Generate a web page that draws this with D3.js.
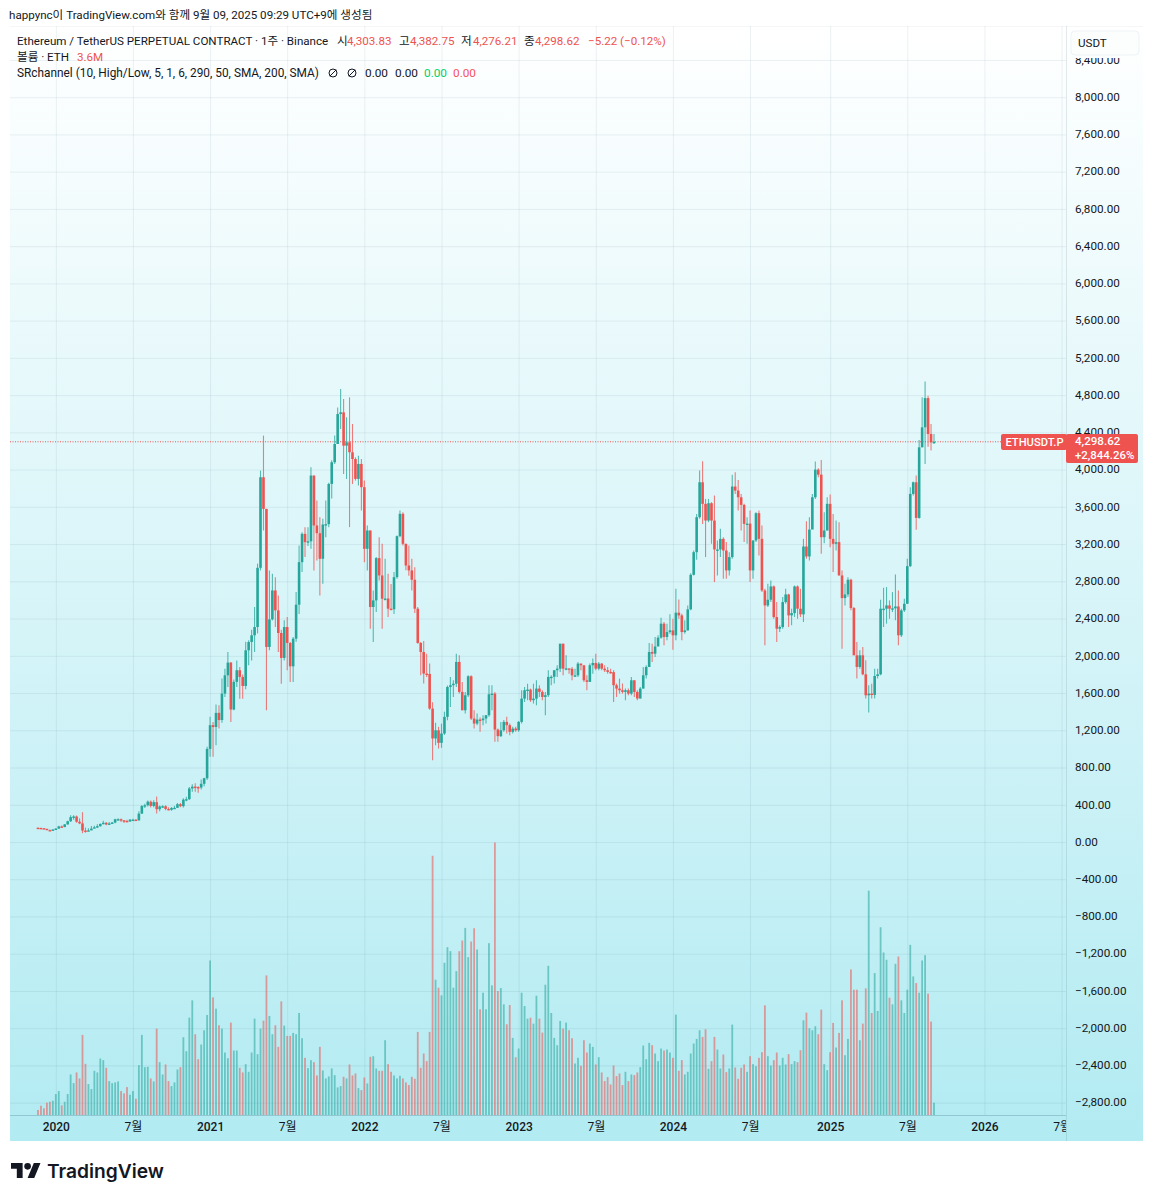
<!DOCTYPE html>
<html lang="ko"><head><meta charset="utf-8">
<script src="https://cdn.jsdelivr.net/npm/d3@7/dist/d3.min.js"></script>
<style>
html,body{margin:0;padding:0;background:#fff}
svg{display:block}
text{font-family:Roboto,"Noto Sans CJK KR",sans-serif;fill:#131722}
</style></head><body><div id="chart"></div>
<script>
// Weekly candles beginning Monday 2019-11-25 (one entry per week), USDT
const closes = [
151,148,142,128,127,134,144,167,161,189,
223,267,274,218,200,123,122,125,144,158,
170,194,206,188,199,209,244,245,233,226,
220,240,240,232,305,386,395,433,387,428,
352,382,384,355,346,366,367,406,385,455,
460,575,595,590,585,625,685,1000,1255,1235,
1387,1310,1594,1790,1927,1423,1720,1845,1773,1676,
2059,2148,2220,2309,2945,3918,3578,2095,2391,2702,
2488,2245,1977,2309,2138,1887,2184,2549,3006,3310,
3221,3230,3936,3400,3317,3042,3410,3414,3846,4079,
4275,4597,4615,4257,4293,4186,4114,3900,4061,3811,
3149,3346,2524,2595,3049,2863,2613,2615,2506,2500,
2845,3285,3525,3203,2970,2917,2817,2506,2138,2041,
1809,1805,1433,1112,1200,1065,1165,1344,1665,1684,
1700,1934,1612,1415,1576,1780,1326,1272,1315,1308,
1326,1362,1587,1594,1208,1137,1200,1290,1255,1183,
1218,1200,1290,1540,1630,1637,1523,1540,1648,1612,
1558,1577,1773,1775,1845,1862,2130,1862,1865,1860,
1790,1790,1916,1898,1737,1720,1898,1923,1862,1916,
1862,1845,1827,1825,1684,1648,1630,1612,1630,1594,
1737,1612,1541,1648,1791,1880,2041,2023,2100,2195,
2345,2202,2255,2273,2220,2463,2434,2255,2273,2499,
2870,3113,3489,3864,3632,3453,3639,3453,3142,3142,
3256,3131,2917,3060,3818,3775,3703,3621,3417,3420,
2917,3239,3532,3256,2702,2541,2602,2745,2416,2291,
2309,2577,2659,2434,2459,2745,2506,2445,3174,3067,
3356,3703,4000,3946,3274,3346,3632,3256,3203,3221,
2863,2620,2659,2817,2513,2005,1880,2005,1801,1576,
1594,1580,1783,1801,2506,2506,2541,2506,2510,2530,
2220,2488,2559,2963,3739,3864,3481,4239,4454,4768,
4382,4293,4298.62];
const highs = [
156,153,149,135,134,138,149,175,176,192,
227,288,287,285,254,320,155,148,172,175,
190,200,228,215,215,216,250,255,252,235,
238,246,250,245,330,398,410,445,445,448,
490,392,394,395,373,375,388,420,418,470,
486,590,620,632,600,670,690,1022,1344,1290,
1477,1469,1755,1862,2041,1934,1745,1950,1880,1800,
2150,2166,2280,2524,2990,3989,4365,3578,2917,2881,
2845,2649,2280,2381,2416,2148,2202,2684,3185,3328,
3380,3382,4025,3936,3668,3489,3471,3668,3860,4100,
4365,4668,4865,4758,4561,4776,4490,4132,4150,4114,
3882,3399,3346,2702,3060,3274,3203,3042,2881,2772,
2900,3292,3560,3543,3203,3185,3042,2952,2524,2148,
2160,2023,1916,1500,1280,1237,1272,1400,1680,1773,
1737,2023,2005,1719,1610,1791,1791,1415,1380,1337,
1362,1362,1683,1683,1612,1218,1290,1310,1344,1272,
1237,1237,1300,1630,1666,1700,1648,1700,1737,1683,
1630,1612,1845,1791,1845,1898,2130,2130,2005,1862,
1880,1862,1934,1916,1898,1791,1916,1970,2023,1934,
1923,1898,1880,1862,1845,1702,1755,1702,1648,1648,
1773,1737,1630,1666,1880,1898,2138,2130,2202,2220,
2409,2363,2345,2445,2398,2720,2606,2452,2381,2541,
2888,3131,3524,3989,4089,3685,3685,3650,3721,3239,
3364,3274,3221,3113,3946,3971,3889,3739,3632,3489,
3560,3239,3542,3560,3399,2720,2774,2810,2756,2577,
2327,2631,2720,2667,2506,2756,2756,2720,3256,3446,
3489,3739,4086,4014,4104,3542,3703,3732,3524,3453,
3435,2917,2774,2845,2827,2524,2148,2059,2095,1952,
1684,1701,1862,1862,2602,2731,2738,2595,2684,2874,
2702,2506,2613,3042,3810,3871,3936,4318,4776,4947,
4793,4490,4382.75];
const lows = [
146,144,140,125,122,126,133,142,155,158,
186,215,240,208,192,95,100,118,125,150,
150,165,190,180,185,195,201,230,215,205,
215,218,230,225,232,300,365,380,370,372,
307,330,365,340,340,335,360,367,372,370,
437,450,540,540,530,565,600,665,915,915,
1040,1219,1280,1558,1666,1290,1415,1666,1540,1540,
1640,1898,1950,2041,2240,2917,3346,1415,2059,2380,
2310,2041,1701,1950,1845,1719,1719,2150,2450,2899,
3060,3180,3150,2917,3024,2649,2774,3274,3380,3690,
4061,4436,4436,3954,3900,3382,3846,3882,3828,3560,
3006,2917,2291,2148,2470,2810,2291,2595,2416,2488,
2450,2827,3274,3185,2920,2860,2702,2460,2130,1791,
1702,1773,1420,879,1040,1004,1012,1150,1308,1451,
1558,1665,1594,1415,1380,1558,1310,1219,1255,1183,
1255,1272,1344,1415,1076,1076,1129,1184,1165,1147,
1165,1183,1183,1272,1505,1523,1505,1487,1469,1558,
1523,1362,1558,1684,1702,1773,1827,1791,1844,1808,
1737,1773,1773,1844,1719,1630,1719,1808,1844,1844,
1844,1827,1808,1808,1505,1558,1594,1594,1523,1576,
1576,1558,1523,1541,1648,1755,1880,1934,1987,2113,
2184,2113,2166,2238,2066,2166,2398,2166,2238,2273,
2488,2863,3031,3471,3417,3060,3435,3203,2792,2863,
3060,2827,2827,2863,3042,3739,3560,3346,3221,3203,
2792,2827,3221,3078,2684,2113,2524,2577,2398,2148,
2255,2291,2559,2309,2327,2416,2398,2416,2363,3042,
3024,3364,3685,3918,3096,3210,3346,3167,2899,3131,
2863,2077,2541,2631,2488,2059,1755,1862,1791,1541,
1390,1541,1541,1755,1791,2309,2345,2398,2470,2381,
2113,2202,2470,2559,2953,3721,3353,3471,4239,4061,
4246,4204,4276.21];
// Volume, in units of 100k ETH
const volumes = [
15,28,20,37,40,43,63,72,29,40,
63,122,96,128,110,241,154,93,78,133,
128,170,165,142,102,96,98,101,72,65,
84,61,72,49,150,241,144,145,110,101,
260,159,122,152,102,87,98,137,144,234,
192,293,345,243,168,212,255,301,465,354,
320,270,260,188,171,278,194,194,142,128,
153,130,188,290,183,260,284,420,298,243,
270,205,342,269,238,238,247,243,307,231,
172,141,165,159,119,205,134,110,116,140,
120,83,87,115,110,152,119,125,81,75,
113,95,175,177,140,133,133,225,153,130,
119,110,118,110,98,90,115,109,250,142,
185,162,250,780,407,383,360,458,505,493,
383,433,493,525,563,475,522,562,498,318,
368,318,517,390,820,373,382,333,273,331,
232,174,200,368,328,290,293,275,359,290,
248,392,449,307,232,210,283,260,278,255,
231,155,172,148,225,188,215,205,152,174,
128,102,114,92,149,117,125,90,130,102,
122,120,128,144,209,168,217,210,185,162,
200,194,197,188,172,302,133,165,122,130,
185,215,229,255,235,258,139,162,235,197,
140,182,129,140,272,143,109,142,152,130,
177,153,147,172,189,330,177,149,165,188,
149,172,152,183,153,162,159,195,285,308,
261,255,267,243,317,153,135,189,277,203,
247,345,180,229,438,377,377,225,275,381,
675,307,427,313,565,489,467,353,333,455,
477,345,307,377,512,417,397,368,465,481,
365,281,37];
const firstOpen = 153;
const priceTicks = d3.range(-2800, 8401, 400);
const timeTickWeeks = ["2020-01-06","2020-07-06","2021-01-04","2021-07-05","2022-01-03","2022-07-04","2023-01-02","2023-07-03","2024-01-01","2024-07-01","2025-01-06","2025-07-07","2026-01-05","2026-07-06"];
const timeTickLabels = ["2020","7월","2021","7월","2022","7월","2023","7월","2024","7월","2025","7월","2026","7월"];
const lastClose = 4298.62;
const legendRow1 = [
 ["Ethereum / TetherUS PERPETUAL CONTRACT · 1주 · Binance",17,"#131722",11.6],
 ["시",337,"#131722",11.6],["4,303.83",347,"#ef5350",11.6],
 ["고",399,"#131722",11.6],["4,382.75",410,"#ef5350",11.6],
 ["저",461,"#131722",11.6],["4,276.21",473,"#ef5350",11.6],
 ["종",524,"#131722",11.6],["4,298.62",535,"#ef5350",11.6],
 ["−5.22 (−0.12%)",588,"#ef5350",11.6]];
const legendRow2 = [["볼륨 · ETH",17,"#131722",11.6],["3.6M",77,"#ef5350",11.6]];
const legendRow3 = [
 ["SRchannel (10, High/Low, 5, 1, 6, 290, 50, SMA, 200, SMA)",17,"#131722",11.85],
 ["0.00",365,"#131722",11.8],["0.00",395,"#131722",11.8],["0.00",424,"#00d26a",11.8],["0.00",453,"#f7525f",11.8]];

const W=1153,H=1200;
const panel={l:10,r:1143,t:26,b:1141}, plotR=1066, timeY=1115;
const UP="#26a69a",DOWN="#ef5350";
const svg=d3.select("#chart").append("svg").attr("width",W).attr("height",H).attr("viewBox",[0,0,W,H]);
const defs=svg.append("defs");
const g=defs.append("linearGradient").attr("id","bg").attr("gradientUnits","userSpaceOnUse").attr("x1",0).attr("x2",0).attr("y1",panel.t).attr("y2",panel.b);
g.append("stop").attr("offset",0).attr("stop-color","#ffffff");
g.append("stop").attr("offset",1).attr("stop-color","#b2ebf2");

const start=new Date(Date.UTC(2019,10,25));
const dateOf=i=>d3.utcMonday.offset(start,i);
const x=d3.scaleUtc().domain([start,dateOf(closes.length-1)]).range([38,934]);
const y=d3.scaleLinear().domain([0,8000]).range([842,97.2]);
const v=d3.scaleLinear().domain([0,820]).range([timeY,842.5]);
const candles=closes.map((c,i)=>({date:dateOf(i),c,o:i?closes[i-1]:firstOpen,h:highs[i],l:lows[i],vol:volumes[i]}));
const col=d=>d.c>=d.o?UP:DOWN;
const tickDates=timeTickWeeks.map(s=>new Date(s+"T00:00:00Z"));

svg.append("rect").attr("x",panel.l).attr("y",panel.t).attr("width",panel.r-panel.l).attr("height",panel.b-panel.t).attr("fill","url(#bg)");
const GRID="rgba(30,70,90,0.075)";
// grid
const gridY=svg.append("g").attr("transform",`translate(${plotR},0)`)
 .call(d3.axisLeft(y).tickValues(priceTicks).tickSize(plotR-panel.l).tickFormat(""));
gridY.selectAll("line").attr("stroke",GRID);gridY.select(".domain").remove();
const gridX=svg.append("g").attr("transform",`translate(0,${timeY})`)
 .call(d3.axisTop(x).tickValues(tickDates).tickSize(timeY-panel.t).tickFormat(""));
gridX.selectAll("line").attr("stroke",GRID);gridX.select(".domain").remove();
// separators
svg.append("line").attr("x1",panel.l).attr("x2",panel.r).attr("y1",panel.t+.5).attr("y2",panel.t+.5).attr("stroke","rgba(30,70,90,0.05)");
svg.append("line").attr("x1",panel.l).attr("x2",plotR).attr("y1",timeY+.5).attr("y2",timeY+.5).attr("stroke","rgba(30,70,90,0.22)");
svg.append("line").attr("x1",plotR+.5).attr("x2",plotR+.5).attr("y1",panel.t).attr("y2",panel.b).attr("stroke","rgba(30,70,90,0.12)");

// volume
svg.append("g").selectAll("rect").data(candles).join("rect")
 .attr("x",d=>x(d.date)-.9).attr("width",1.8).attr("y",d=>v(d.vol)).attr("height",d=>timeY-v(d.vol))
 .attr("fill",col).attr("fill-opacity",.55);
// price line
svg.append("line").attr("x1",panel.l).attr("x2",plotR).attr("y1",y(lastClose)).attr("y2",y(lastClose))
 .attr("stroke",DOWN).attr("stroke-dasharray","1 1.5").attr("stroke-width",1);
// candles
const cg=svg.append("g");
cg.selectAll("line").data(candles).join("line")
 .attr("x1",d=>x(d.date)).attr("x2",d=>x(d.date)).attr("y1",d=>y(d.h)).attr("y2",d=>y(d.l))
 .attr("stroke",col).attr("stroke-width",1.1).attr("stroke-opacity",.75);
cg.selectAll("rect").data(candles).join("rect")
 .attr("x",d=>x(d.date)-1.3).attr("width",2.6)
 .attr("y",d=>y(Math.max(d.o,d.c))).attr("height",d=>Math.max(1.4,Math.abs(y(d.o)-y(d.c))))
 .attr("fill",col);

// price axis
const ay=svg.append("g").attr("transform",`translate(${plotR+9},-0.5)`)
 .call(d3.axisRight(y).tickValues(priceTicks).tickSize(0).tickPadding(0).tickFormat(d3.format(",.2f")));
ay.select(".domain").remove();
ay.selectAll("text").attr("font-size",11.7).style("font-family",'Roboto,"Noto Sans CJK KR",sans-serif').attr("fill","#131722");
// time axis
svg.append("clipPath").attr("id","tclip").append("rect").attr("x",panel.l).attr("y",timeY).attr("width",plotR-panel.l).attr("height",panel.b-timeY);
const ax=svg.append("g").attr("clip-path","url(#tclip)");
const axInner=ax.append("g").attr("transform",`translate(0,${timeY})`)
 .call(d3.axisBottom(x).tickValues(tickDates).tickSize(0).tickPadding(7.5).tickFormat((d,i)=>timeTickLabels[i]));
axInner.select(".domain").remove();
axInner.selectAll("text").attr("font-size",12).style("font-family",'Roboto,"Noto Sans CJK KR",sans-serif')
 .attr("fill","#131722").attr("font-weight",(d,i)=>i%2===0?500:400);

// USDT unit box (the top price label passes beneath the header of the price scale)
svg.append("rect").attr("x",plotR+1).attr("y",panel.t+1).attr("width",panel.r-plotR-1).attr("height",31).attr("fill","url(#bg)");
svg.append("rect").attr("x",1071).attr("y",31).attr("width",68).attr("height",24).attr("rx",4)
 .attr("fill","#fcfefe").attr("stroke","#eef3f5");
svg.append("text").attr("x",1078).attr("y",47).attr("font-size",11.6).text("USDT");

// tags
const tag=svg.append("g");
tag.append("rect").attr("x",1001).attr("y",434).attr("width",66).attr("height",16).attr("rx",2).attr("fill",DOWN);
tag.append("text").attr("x",1034.5).attr("y",446).attr("text-anchor","middle").attr("font-size",11.2).attr("font-weight",500).style("fill","#fff").text("ETHUSDT.P");
tag.append("rect").attr("x",1066).attr("y",434).attr("width",72).attr("height",29).attr("rx",2).attr("fill",DOWN);
tag.append("text").attr("x",1075).attr("y",445).attr("font-size",11.6).attr("font-weight",500).style("fill","#fff").text("4,298.62");
tag.append("text").attr("x",1075).attr("y",459).attr("font-size",11.4).attr("font-weight",500).style("fill","#fff").text("+2,844.26%");

// header + legend
svg.append("text").attr("x",9).attr("y",18.5).attr("font-size",11.6).text("happync이 TradingView.com와 함께 9월 09, 2025 09:29 UTC+9에 생성됨");
[[legendRow1,45],[legendRow2,61],[legendRow3,77]].forEach(([row,yy])=>{
 svg.append("g").selectAll("text").data(row).join("text")
  .attr("x",d=>d[1]).attr("y",yy).attr("font-size",d=>d[3]).style("fill",d=>d[2]).text(d=>d[0]);
});
// two "hidden" eye icons of the SRchannel row
[333,352].forEach(cx=>{
 const e=svg.append("g").attr("transform",`translate(${cx},73)`).attr("fill","none").attr("stroke","#131722").attr("stroke-width",1);
 e.append("circle").attr("r",4);
 e.append("line").attr("x1",-3.2).attr("y1",3.2).attr("x2",3.2).attr("y2",-3.2);
});

// logo
svg.append("g").attr("transform","translate(11,1159.7) scale(.83)").attr("fill","#131722").call(s=>{
 s.append("path").attr("d","M14 22H7V11H0V4h14v18zM28 22h-8l7.5-18h8L28 22z");
 s.append("circle").attr("cx",20).attr("cy",8).attr("r",4);
});
svg.append("text").attr("x",47).attr("y",1178).attr("font-size",19.2).attr("font-weight",600).style("font-family","Inter,Roboto,sans-serif").text("TradingView");
</script></body></html>
